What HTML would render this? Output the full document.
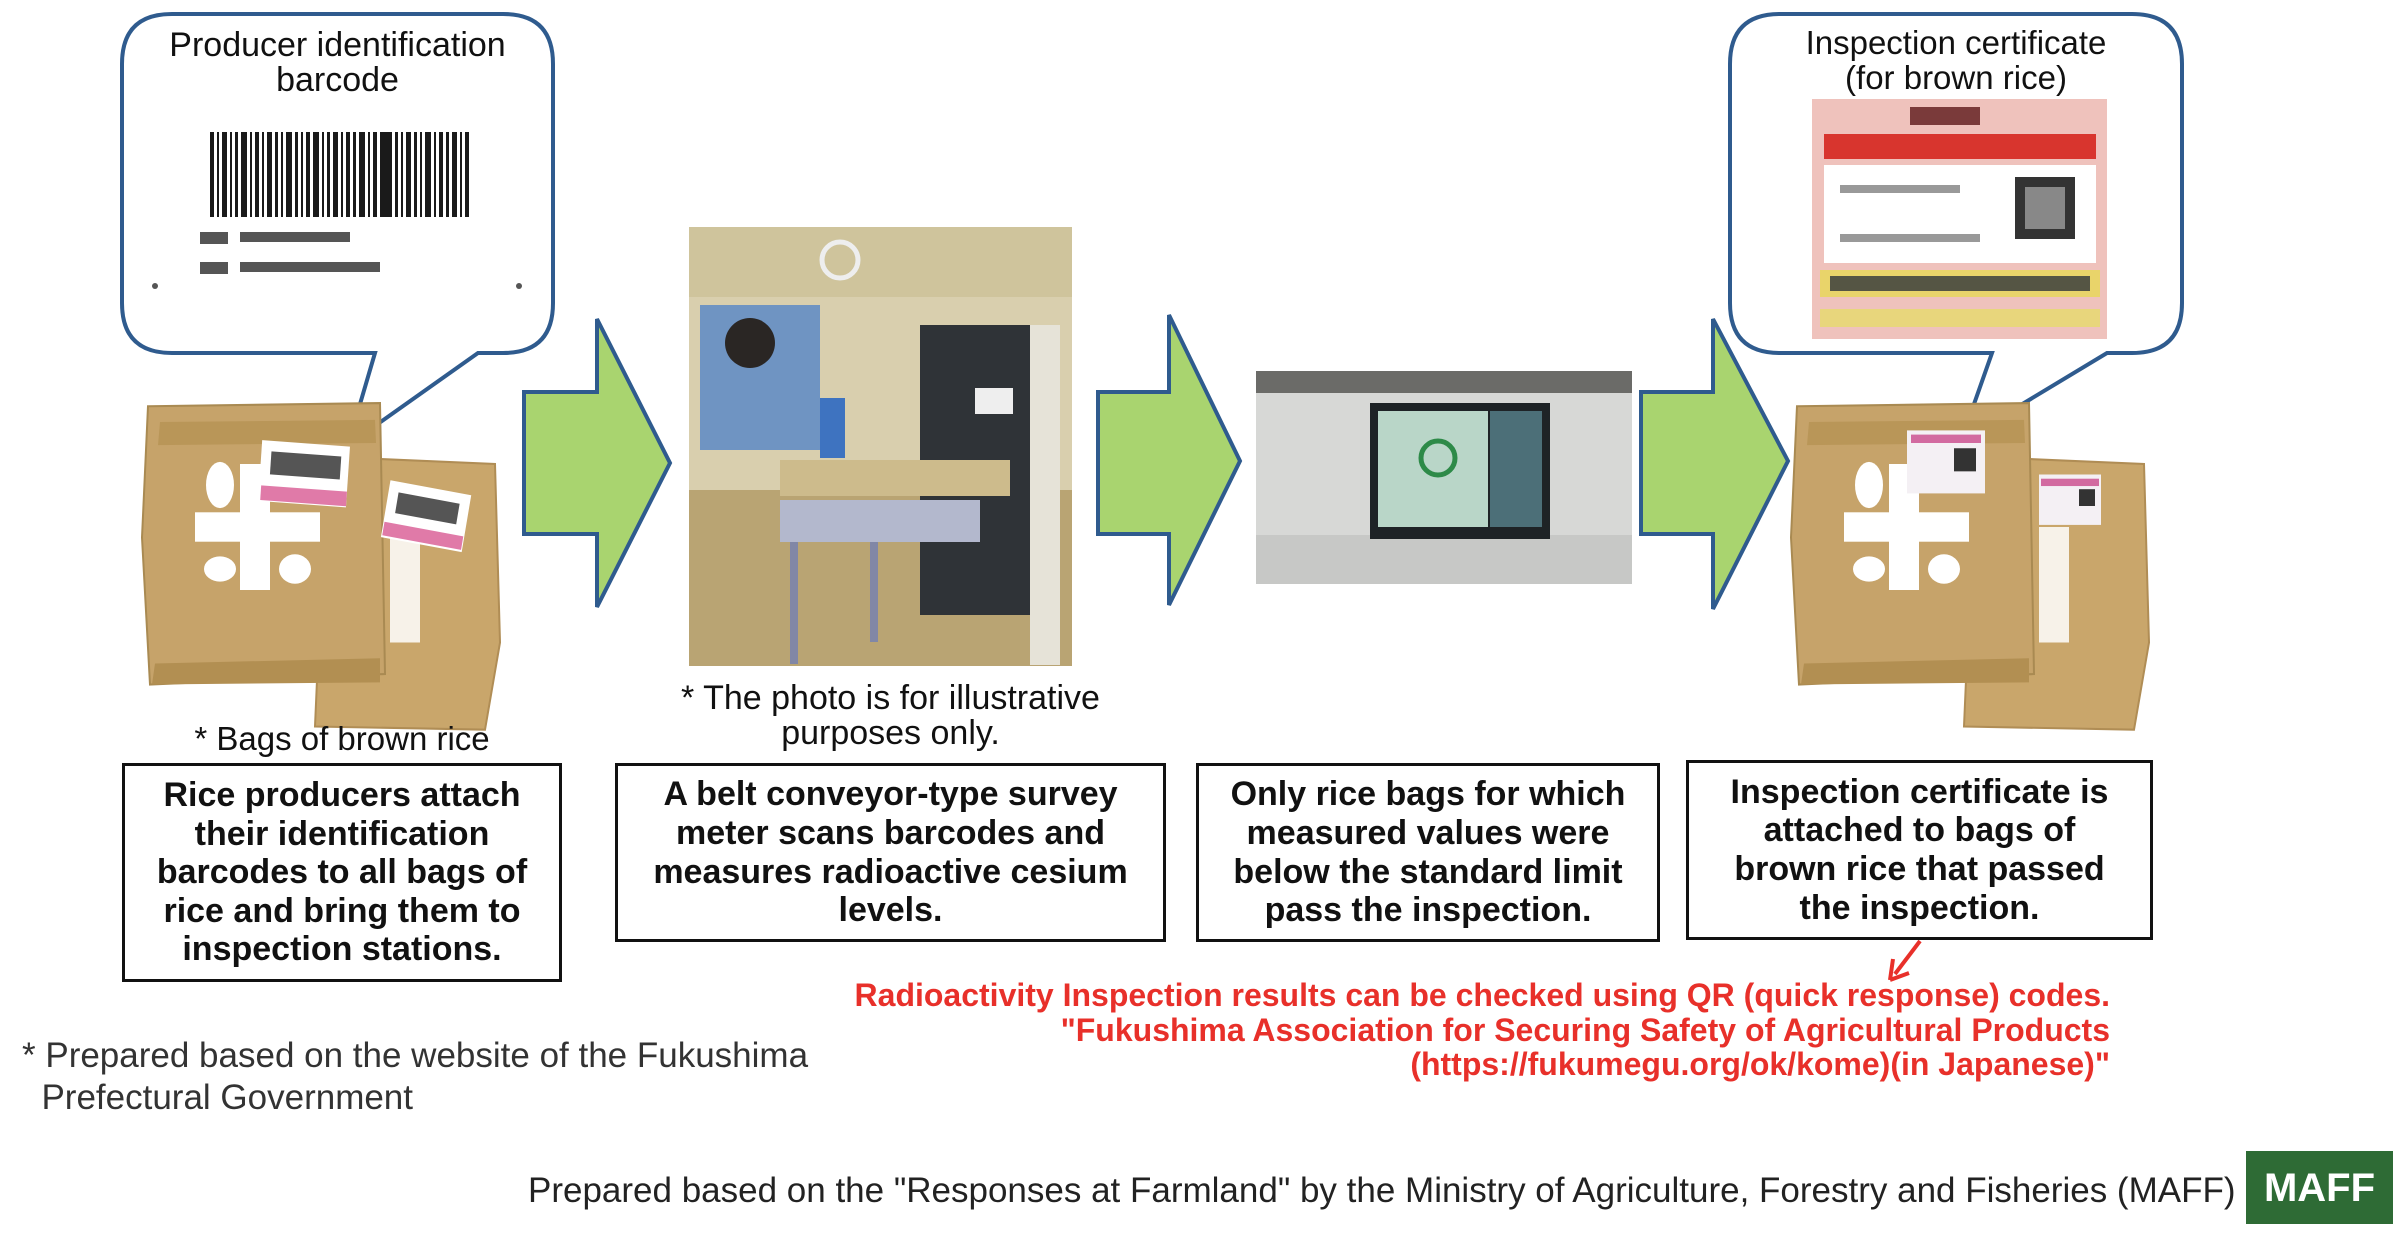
<!DOCTYPE html>
<html><head><meta charset="utf-8"><style>
html,body{margin:0;padding:0;background:#fff;}
body{width:2402px;height:1236px;position:relative;overflow:hidden;font-family:"Liberation Sans","Noto Sans CJK JP",sans-serif;}
.t{position:absolute;white-space:nowrap;text-align:center;color:#111;}
.box{position:absolute;border:3px solid #111;box-sizing:border-box;display:flex;align-items:center;justify-content:center;text-align:center;font-weight:bold;font-size:34px;line-height:38.6px;color:#111;}
.red{position:absolute;right:292px;text-align:right;color:#e8302a;font-weight:bold;font-size:32px;line-height:34.5px;white-space:nowrap;}
</style></head><body>
<svg width="2402" height="1236" style="position:absolute;left:0;top:0">
<defs>
<g id="bag">
 <path d="M233,75 L355,80 L360,250 L345,333 L175,330 L180,220 Z" fill="#c9a66b" stroke="#b08d55" stroke-width="2"/>
 <path d="M250,140 h30 v110 h-30z" fill="#fff" opacity=".85"/>
 <path d="M8,25 L240,22 L245,280 L10,290 L2,150 Z" fill="#c6a36a" stroke="#a98a52" stroke-width="2"/>
 <path d="M20,40 L235,38 L236,60 L18,62 Z" fill="#b99658"/>
 <path d="M15,270 L240,265 L240,288 L12,290 Z" fill="#b28f52"/>
 <rect x="55" y="126" width="125" height="28" fill="#fff"/>
 <rect x="100" y="80" width="30" height="120" fill="#fff"/>
 <ellipse cx="80" cy="100" rx="14" ry="22" fill="#fff"/>
 <ellipse cx="80" cy="180" rx="16" ry="12" fill="#fff"/>
 <ellipse cx="155" cy="180" rx="16" ry="14" fill="#fff"/>
</g>
</defs>
<!-- callout 1 -->
<path d="M172,14 H503 Q553,14 553,64 V303 Q553,353 503,353 H478 L348,445 L375,353 H172 Q122,353 122,303 V64 Q122,14 172,14 Z" fill="#fff" stroke="#2f5b8e" stroke-width="4"/>
<g fill="#1a1a1a">
<rect x="210" y="132" width="4" height="85"/><rect x="217" y="132" width="2" height="85"/><rect x="222" y="132" width="5" height="85"/><rect x="230" y="132" width="2" height="85"/><rect x="235" y="132" width="3" height="85"/><rect x="241" y="132" width="6" height="85"/><rect x="250" y="132" width="2" height="85"/><rect x="255" y="132" width="4" height="85"/><rect x="262" y="132" width="2" height="85"/><rect x="267" y="132" width="5" height="85"/><rect x="275" y="132" width="3" height="85"/><rect x="281" y="132" width="2" height="85"/><rect x="286" y="132" width="6" height="85"/><rect x="295" y="132" width="3" height="85"/><rect x="301" y="132" width="2" height="85"/><rect x="306" y="132" width="4" height="85"/><rect x="313" y="132" width="6" height="85"/><rect x="322" y="132" width="2" height="85"/><rect x="327" y="132" width="3" height="85"/><rect x="333" y="132" width="5" height="85"/><rect x="341" y="132" width="2" height="85"/><rect x="346" y="132" width="4" height="85"/><rect x="353" y="132" width="3" height="85"/><rect x="359" y="132" width="6" height="85"/><rect x="368" y="132" width="2" height="85"/><rect x="373" y="132" width="4" height="85"/><rect x="380" y="132" width="12" height="85"/><rect x="395" y="132" width="3" height="85"/><rect x="401" y="132" width="2" height="85"/><rect x="406" y="132" width="5" height="85"/><rect x="414" y="132" width="3" height="85"/><rect x="420" y="132" width="2" height="85"/><rect x="425" y="132" width="6" height="85"/><rect x="434" y="132" width="2" height="85"/><rect x="439" y="132" width="4" height="85"/><rect x="446" y="132" width="3" height="85"/><rect x="452" y="132" width="5" height="85"/><rect x="460" y="132" width="2" height="85"/><rect x="465" y="132" width="4" height="85"/>
</g>
<g fill="#555">
<rect x="200" y="232" width="28" height="12"/><rect x="240" y="232" width="110" height="10"/>
<rect x="200" y="262" width="28" height="12"/><rect x="240" y="262" width="140" height="10"/>
<circle cx="155" cy="286" r="3"/><circle cx="519" cy="286" r="3"/>
</g>
<!-- bags 1 -->
<g transform="translate(140,380) scale(1,1.05)"><use href="#bag"/>
 <rect x="120" y="60" width="88" height="58" fill="#fff" transform="rotate(4 160 90)"/><rect x="122" y="103" width="86" height="14" fill="#e07aa8" transform="rotate(4 160 90)"/>
 <rect x="130" y="70" width="70" height="22" fill="#555" transform="rotate(4 160 90)"/>
 <rect x="245" y="102" width="82" height="55" fill="#fff" transform="rotate(10 285 130)"/><rect x="246" y="142" width="80" height="13" fill="#e07aa8" transform="rotate(10 285 130)"/>
 <rect x="255" y="112" width="62" height="20" fill="#555" transform="rotate(10 285 130)"/>
</g>
<!-- arrows -->
<path d="M524,392 H597 V319 L670,463 L597,607 V534 H524 Z" fill="#a9d46f" stroke="#2f5b8e" stroke-width="4"/>
<path d="M1098,392 H1169 V315 L1240,461 L1169,605 V534 H1098 Z" fill="#a9d46f" stroke="#2f5b8e" stroke-width="4"/>
<path d="M1641,392 H1713 V319 L1788,461 L1713,609 V534 H1641 Z" fill="#a9d46f" stroke="#2f5b8e" stroke-width="4"/>
<!-- photo 1 -->
<g>
<rect x="689" y="227" width="383" height="439" fill="#d9cfae"/>
<rect x="689" y="227" width="383" height="70" fill="#cfc49c"/>
<rect x="689" y="490" width="383" height="176" fill="#b9a473"/>
<rect x="920" y="325" width="135" height="290" fill="#2f3337"/>
<rect x="1030" y="325" width="30" height="340" fill="#e6e3d8"/>
<rect x="975" y="388" width="38" height="26" fill="#eee"/>
<rect x="700" y="305" width="120" height="145" fill="#6f94c2"/>
<circle cx="750" cy="343" r="25" fill="#2a2624"/>
<rect x="820" y="398" width="25" height="60" fill="#3e73c0"/>
<rect x="780" y="460" width="230" height="36" fill="#cdbb8c"/>
<rect x="780" y="500" width="200" height="42" fill="#b3b8cd"/>
<rect x="790" y="542" width="8" height="122" fill="#8187a6"/><rect x="870" y="542" width="8" height="100" fill="#8187a6"/>
<ellipse cx="840" cy="260" rx="18" ry="18" fill="none" stroke="#eee" stroke-width="5"/>
</g>
<!-- photo 2 -->
<g>
<rect x="1256" y="371" width="376" height="213" fill="#d7d8d6"/>
<rect x="1256" y="371" width="376" height="22" fill="#6b6b68"/>
<rect x="1256" y="535" width="376" height="49" fill="#c7c8c6"/>
<rect x="1370" y="403" width="180" height="136" fill="#1e2326"/>
<rect x="1378" y="411" width="110" height="116" fill="#b9d6c8"/>
<rect x="1490" y="411" width="52" height="116" fill="#4c6f78"/>
<circle cx="1438" cy="458" r="17" fill="none" stroke="#2d8a48" stroke-width="5"/>
</g>
<!-- callout 2 -->
<path d="M1780,14 H2132 Q2182,14 2182,64 V303 Q2182,353 2132,353 H2107 L1961,441 L1992,353 H1780 Q1730,353 1730,303 V64 Q1730,14 1780,14 Z" fill="#fff" stroke="#2f5b8e" stroke-width="4"/>
<!-- certificate -->
<rect x="1812" y="99" width="295" height="240" fill="#efc2bc"/>
<rect x="1824" y="134" width="272" height="25" fill="#d8352e"/>
<rect x="1824" y="165" width="272" height="98" fill="#fff"/>
<rect x="2015" y="177" width="60" height="62" fill="#333"/>
<rect x="2025" y="187" width="40" height="42" fill="#888"/>
<rect x="1840" y="185" width="120" height="8" fill="#999"/><rect x="1840" y="234" width="140" height="8" fill="#999"/>
<rect x="1820" y="270" width="280" height="27" fill="#e9d46a"/>
<rect x="1830" y="276" width="260" height="15" fill="#554"/>
<rect x="1820" y="309" width="280" height="18" fill="#e8d67c"/>
<rect x="1910" y="107" width="70" height="18" fill="#7a3a3a"/>
<!-- bags 2 -->
<g transform="translate(1789,380) scale(1,1.05)"><use href="#bag"/>
 <rect x="118" y="48" width="78" height="60" fill="#f4f0f4"/><rect x="122" y="52" width="70" height="8" fill="#d26aa0"/><rect x="165" y="65" width="22" height="22" fill="#333"/>
 <rect x="250" y="90" width="62" height="48" fill="#f4f0f4"/><rect x="252" y="94" width="58" height="7" fill="#d26aa0"/><rect x="290" y="104" width="16" height="16" fill="#333"/>
</g>
<!-- red arrow -->
<path d="M1920,941 L1895,974" stroke="#e8302a" stroke-width="4"/>
<path d="M1890,980 L1893,959 M1890,980 L1909,973" stroke="#e8302a" stroke-width="4" fill="none"/>
<!-- MAFF -->
<rect x="2246" y="1151" width="147" height="73" fill="#2e6b35"/>
</svg>

<div class="t" style="left:122px;width:431px;top:28px;font-size:34px;line-height:35px;">Producer identification<br>barcode</div>
<div class="t" style="left:1730px;width:452px;top:25px;font-size:33px;line-height:35px;">Inspection certificate<br>(for brown rice)</div>
<div class="t" style="left:122px;width:440px;top:719px;font-size:33px;line-height:40px;">* Bags of brown rice</div>
<div class="t" style="left:615px;width:551px;top:681px;font-size:34px;line-height:35px;">* The photo is for illustrative<br>purposes only.</div>

<div class="box" style="left:122px;top:763px;width:440px;height:219px;">Rice producers attach<br>their identification<br>barcodes to all bags of<br>rice and bring them to<br>inspection stations.</div>
<div class="box" style="left:615px;top:763px;width:551px;height:179px;">A belt conveyor-type survey<br>meter scans barcodes and<br>measures radioactive cesium<br>levels.</div>
<div class="box" style="left:1196px;top:763px;width:464px;height:179px;">Only rice bags for which<br>measured values were<br>below the standard limit<br>pass the inspection.</div>
<div class="box" style="left:1686px;top:760px;width:467px;height:180px;">Inspection certificate is<br>attached to bags of<br>brown rice that passed<br>the inspection.</div>

<div class="red" style="top:978px;">Radioactivity Inspection results can be checked using QR (quick response) codes.<br>"Fukushima Association for Securing Safety of Agricultural Products<br>(https://fukumegu.org/ok/kome)(in Japanese)"</div>

<div class="t" style="left:22px;top:1035px;font-size:35px;line-height:42px;text-align:left;color:#333;">* Prepared based on the website of the Fukushima<br>&nbsp;&nbsp;Prefectural Government</div>
<div class="t" style="left:528px;top:1170px;font-size:35px;line-height:42px;text-align:left;color:#222;">Prepared based on the "Responses at Farmland" by the Ministry of Agriculture, Forestry and Fisheries (MAFF)</div>
<div class="t" style="left:2246px;width:147px;top:1165px;font-size:40px;line-height:46px;color:#fff;font-weight:bold;">MAFF</div>
</body></html>
